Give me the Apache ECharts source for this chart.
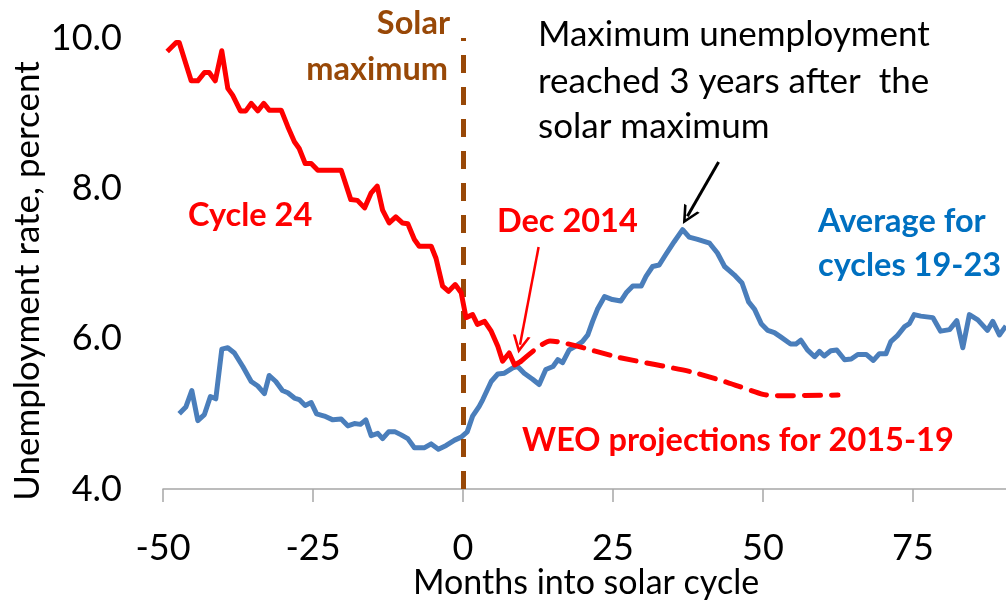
<!DOCTYPE html>
<html>
<head>
<meta charset="utf-8">
<script src="https://cdn.jsdelivr.net/npm/echarts@6/dist/echarts.min.js"></script>
<style>
  html, body { margin: 0; padding: 0; background: #fff; }
  #chart { width: 1006px; height: 607px; }
</style>
</head>
<body>
<div id="chart"></div>
<script>
// average of cycles 19-23 (months into solar cycle, unemployment rate)
const avgMonths = [-47.3, -46.2, -45.2, -44.2, -43.1, -42.1, -41.2, -40.2, -39.2, -38.1, -36.7, -35.3, -34.2, -33.1, -32.3, -31.2, -30.1, -29.2, -28.1, -27.3, -26.3, -25.3, -24.4, -23.1, -21.7, -20.3, -19.2, -18.1, -17.1, -16.2, -15.3, -14.2, -13.4, -12.4, -11.3, -10.3, -9.2, -8.1, -6.4, -5.3, -4.1, -2.8, -1.4, -0.3, 0.7, 1.6, 2.7, 3.3, 4.7, 5.8, 6.9, 8.3, 9.1, 10.2, 11.6, 12.7, 13.8, 15.0, 15.8, 16.6, 17.7, 18.8, 19.9, 20.8, 21.6, 22.4, 23.6, 24.9, 26.3, 27.2, 28.3, 29.7, 30.5, 31.6, 32.7, 33.8, 35.2, 36.6, 37.7, 39.1, 41.1, 42.4, 43.6, 45.2, 46.5, 47.6, 48.6, 49.7, 50.8, 51.9, 53.0, 54.6, 55.5, 56.3, 57.4, 58.6, 59.4, 60.2, 61.3, 62.3, 63.6, 64.7, 65.8, 67.2, 68.4, 69.4, 70.5, 71.3, 72.4, 73.6, 74.4, 75.2, 76.3, 78.3, 79.6, 81.1, 82.3, 83.3, 84.4, 85.8, 87.4, 88.3, 89.4, 90.5]
const avgRate = [5.00, 5.09, 5.31, 4.91, 4.99, 5.23, 5.20, 5.86, 5.88, 5.81, 5.63, 5.43, 5.37, 5.27, 5.51, 5.43, 5.31, 5.28, 5.21, 5.19, 5.11, 5.15, 5.00, 4.97, 4.92, 4.93, 4.84, 4.87, 4.86, 4.92, 4.71, 4.74, 4.67, 4.76, 4.76, 4.72, 4.67, 4.55, 4.55, 4.60, 4.53, 4.58, 4.65, 4.69, 4.76, 4.97, 5.10, 5.19, 5.43, 5.53, 5.54, 5.61, 5.63, 5.54, 5.46, 5.39, 5.59, 5.63, 5.72, 5.68, 5.85, 5.90, 5.96, 6.05, 6.23, 6.39, 6.56, 6.52, 6.50, 6.61, 6.70, 6.70, 6.83, 6.96, 6.98, 7.12, 7.29, 7.45, 7.35, 7.32, 7.27, 7.14, 6.96, 6.85, 6.74, 6.49, 6.39, 6.20, 6.11, 6.08, 6.02, 5.93, 5.93, 5.98, 5.85, 5.76, 5.83, 5.77, 5.84, 5.85, 5.72, 5.73, 5.79, 5.79, 5.71, 5.80, 5.80, 5.96, 6.04, 6.16, 6.20, 6.32, 6.30, 6.28, 6.10, 6.12, 6.24, 5.88, 6.32, 6.25, 6.11, 6.23, 6.05, 6.17]

// cycle 24 actual
const c24Months = [-49.3, -47.8, -47.3, -46.4, -45.3, -44.2, -43.1, -42.3, -41.3, -40.2, -39.2, -38.4, -37.1, -36.2, -35.3, -34.2, -33.2, -32.3, -30.3, -29.2, -28.1, -27.3, -26.3, -25.3, -24.2, -20.3, -18.7, -17.6, -16.4, -15.3, -14.3, -13.4, -12.3, -11.2, -10.1, -9.2, -8.1, -7.3, -5.3, -4.5, -3.4, -2.4, -1.3, -0.3, 0.5, 1.6, 2.4, 3.6, 4.7, 5.8, 6.6, 7.7, 8.6, 9.7]
const c24Rate = [9.82, 9.94, 9.94, 9.71, 9.43, 9.43, 9.54, 9.54, 9.43, 9.83, 9.33, 9.24, 9.03, 9.03, 9.13, 9.03, 9.13, 9.04, 9.04, 8.82, 8.62, 8.53, 8.33, 8.33, 8.24, 8.24, 7.85, 7.84, 7.74, 7.94, 8.03, 7.71, 7.54, 7.62, 7.54, 7.53, 7.32, 7.23, 7.23, 7.07, 6.70, 6.63, 6.72, 6.61, 6.28, 6.32, 6.19, 6.23, 6.10, 5.90, 5.70, 5.81, 5.65, 5.70]

// WEO projections 2015-19
const weoMonths = [9.7, 14.5, 26, 38, 44, 50, 52, 62.5]
const weoRate = [5.70, 5.97, 5.75, 5.56, 5.42, 5.26, 5.24, 5.25]

const yTicks = [4, 6, 8, 10]
const xTicks = [-50, -25, 0, 25, 50, 75]

// arrows, in data coordinates: [start, end]
const decArrow = [[12.6, 7.22], [9.5, 5.92]]
const peakArrow = [[42.6, 8.35], [37.4, 7.63]]

const font = 'Lato, "Open Sans", sans-serif'
const bold = 'bold 32.5px ' + font
const plain = '35px ' + font
const vHead = 'path://M5,0 L10,10 L8.4,10 L5,3.2 L1.6,10 L0,10 Z'

const pairs = (xs, ys) => xs.map((x, i) => [x, ys[i]])

const chart = echarts.init(document.getElementById('chart'), null, { renderer: 'canvas' })

const option = {
  animation: false,
  backgroundColor: '#fff',
  textStyle: { fontFamily: font },
  grid: { left: 163, right: 0, top: 38, bottom: 118 },
  xAxis: {
    type: 'value',
    min: xTicks[0],
    max: 90.5,
    interval: 25,
    axisLine: { show: true, onZero: false, lineStyle: { color: '#a6a6a6', width: 1.5 } },
    axisTick: { show: true, length: 13, lineStyle: { color: '#a6a6a6', width: 1.5 } },
    splitLine: { show: false },
    axisLabel: {
      showMaxLabel: false,
      margin: 59,
      verticalAlign: 'middle',
      fontSize: 36,
      color: '#000',
      fontFamily: font,
    },
  },
  yAxis: {
    type: 'value',
    min: yTicks[0],
    max: yTicks[yTicks.length - 1],
    interval: 2,
    axisLine: { show: false },
    axisTick: { show: false },
    splitLine: { show: false },
    axisLabel: {
      margin: 41,
      fontSize: 36,
      color: '#000',
      fontFamily: font,
      formatter: v => v.toFixed(1),
    },
  },
  series: [
    {
      name: 'Average for cycles 19-23',
      type: 'line',
      z: 2,
      data: pairs(avgMonths, avgRate),
      showSymbol: false,
      lineStyle: { color: '#4a7ebb', width: 5, join: 'round' },
      markLine: {
        silent: true,
        symbol: 'none',
        label: { show: false },
        lineStyle: { color: '#984807', width: 5, type: [18, 14] },
        data: [{ xAxis: 0 }],
      },
    },
    {
      name: 'Cycle 24',
      type: 'line',
      z: 5,
      data: pairs(c24Months, c24Rate),
      showSymbol: false,
      lineStyle: { color: '#ff0000', width: 5, join: 'round' },
      markLine: {
        silent: true,
        symbol: ['none', vHead],
        symbolSize: [18, 18],
        label: { show: false },
        data: [
          [
            { coord: decArrow[0], lineStyle: { color: '#ff0000', width: 2.5, type: 'solid' } },
            { coord: decArrow[1] },
          ],
          [
            { coord: peakArrow[0], lineStyle: { color: '#000', width: 3, type: 'solid' } },
            { coord: peakArrow[1] },
          ],
        ],
      },
    },
    {
      name: 'WEO projections',
      type: 'line',
      z: 5,
      data: pairs(weoMonths, weoRate),
      showSymbol: false,
      smooth: 0.2,
      lineStyle: { color: '#ff0000', width: 5, type: [16, 11], cap: 'round' },
    },
  ],
  graphic: [
    { type: 'text', left: 413, top: 566, style: { text: 'Months into solar cycle', font: '34px ' + font, fill: '#000' } },
    {
      type: 'text', x: 10, y: 281, rotation: Math.PI / 2,
      style: { text: 'Unemployment rate, percent', font: plain, fill: '#000', align: 'center', verticalAlign: 'top' },
    },
    { type: 'text', x: 450, y: 24, style: { text: 'Solar', font: bold, fill: '#984807', align: 'right', verticalAlign: 'middle' } },
    { type: 'text', x: 448, y: 70, style: { text: 'maximum', font: bold, fill: '#984807', align: 'right', verticalAlign: 'middle' } },
    { type: 'text', x: 188, y: 216, style: { text: 'Cycle 24', font: bold, fill: '#ff0000', verticalAlign: 'middle' } },
    { type: 'text', x: 497, y: 222, style: { text: 'Dec 2014', font: bold, fill: '#ff0000', verticalAlign: 'middle' } },
    { type: 'text', x: 538, y: 35, style: { text: 'Maximum unemployment', font: plain, fill: '#000', verticalAlign: 'middle' } },
    { type: 'text', x: 538, y: 82, style: { text: 'reached 3 years after  the', font: plain, fill: '#000', verticalAlign: 'middle' } },
    { type: 'text', x: 538, y: 127, style: { text: 'solar maximum', font: plain, fill: '#000', verticalAlign: 'middle' } },
    { type: 'text', x: 818, y: 222, style: { text: 'Average for', font: bold, fill: '#0070c0', verticalAlign: 'middle' } },
    { type: 'text', x: 818, y: 266, style: { text: 'cycles 19-23', font: bold, fill: '#0070c0', verticalAlign: 'middle' } },
    { type: 'text', x: 522, y: 441, style: { text: 'WEO projections for 2015-19', font: bold, fill: '#ff0000', verticalAlign: 'middle' } },
  ],
}

chart.setOption(option)
</script>
</body>
</html>
